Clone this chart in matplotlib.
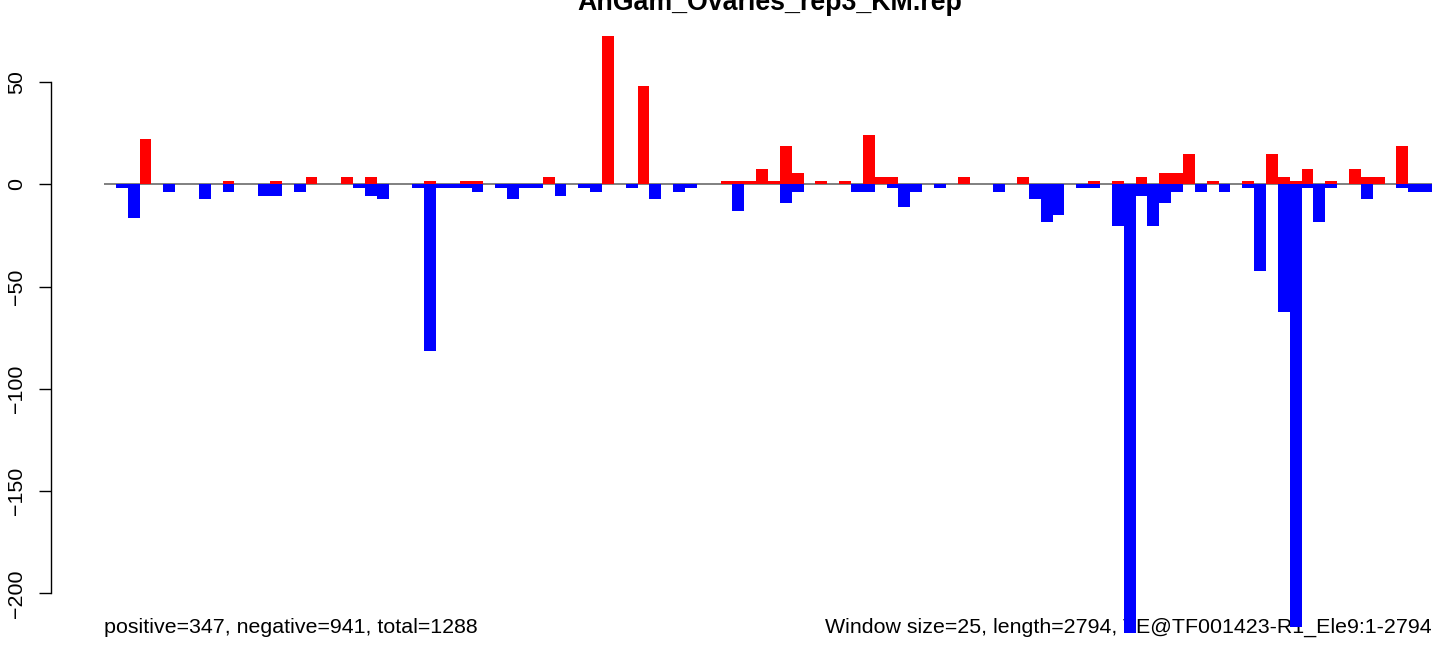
import matplotlib
matplotlib.use("Agg")
import matplotlib.pyplot as plt
import numpy as np

plt.rcParams["font.family"] = ["Liberation Sans", "DejaVu Sans"]

title = "AnGam_Ovaries_rep3_KM.rep"
left_note = "positive=347, negative=941, total=1288"
right_note = "Window size=25, length=2794, TE@TF001423-R1_Ele9:1-2794"

# one value per 25-bp window (112 windows)
pos = [
    0, 0, 0, 22.3, 0, 0, 0, 0,
    0, 0, 1.85, 0, 0, 0, 1.85, 0,
    0, 3.7, 0, 0, 3.7, 0, 3.7, 0,
    0, 0, 0, 1.85, 0, 0, 1.85, 1.85,
    0, 0, 0, 0, 0, 3.7, 0, 0,
    0, 0, 72.3, 0, 0, 48.2, 0, 0,
    0, 0, 0, 0, 1.85, 1.85, 1.85, 7.4,
    1.85, 18.5, 5.55, 0, 1.85, 0, 1.85, 0,
    24.2, 3.7, 3.7, 0, 0, 0, 0, 0,
    3.7, 0, 0, 0, 0, 3.7, 0, 0,
    0, 0, 0, 1.85, 0, 1.85, 0, 3.7,
    0, 5.55, 5.55, 14.8, 0, 1.85, 0, 0,
    1.85, 0, 14.8, 3.7, 1.85, 7.4, 0, 1.85,
    0, 7.4, 3.7, 3.7, 0, 18.5, 0, 0,
]
neg = [
    0, 1.85, 16.65, 0, 0, 3.7, 0, 0,
    7.4, 0, 3.7, 0, 0, 5.55, 5.55, 0,
    3.7, 0, 0, 0, 0, 1.85, 5.55, 7.4,
    0, 0, 1.85, 81.5, 1.85, 1.85, 1.85, 3.7,
    0, 1.85, 7.4, 1.85, 1.85, 0, 5.55, 0,
    1.85, 3.7, 0, 0, 1.85, 0, 7.4, 0,
    3.7, 1.85, 0, 0, 0, 12.95, 0, 0,
    0, 9.25, 3.7, 0, 0, 0, 0, 3.7,
    3.7, 0, 1.85, 11.1, 3.7, 0, 1.85, 0,
    0, 0, 0, 3.7, 0, 0, 7.4, 18.5,
    14.8, 0, 1.85, 1.85, 0, 20.35, 219.5, 5.55,
    20.35, 9.25, 3.7, 0, 3.7, 0, 3.7, 0,
    1.85, 42.6, 0, 62.5, 216.5, 1.85, 18.5, 1.85,
    0, 0, 7.4, 0, 0, 1.85, 3.7, 3.7,
]
yticks = [-200, -150, -100, -50, 0, 50]

W, H = 1449, 646
fig = plt.figure(figsize=(W / 100, H / 100), dpi=100)
fig.patch.set_facecolor("white")

# axes placed in pixels so the bars line up with the original R barplot
ax_l, ax_r, ax_t, ax_b = 40, 1440, 20, 645
ax = fig.add_axes([ax_l / W, 1 - ax_b / H, (ax_r - ax_l) / W, (ax_b - ax_t) / H])

n = len(pos)
x = np.arange(n)
px_per_bar = (1432 - 104) / n
px_per_unit = 2.045
zero_px = 184.3

ax.set_xlim((ax_l - 104) / px_per_bar, (ax_r - 104) / px_per_bar)
ax.set_ylim(-(ax_b - zero_px) / px_per_unit, (zero_px - ax_t) / px_per_unit)

ax.text(0, -219.4, left_note, ha="left", va="baseline", fontsize=15.4, zorder=1)
ax.text(n, -219.4, right_note, ha="right", va="baseline", fontsize=15.4, zorder=1)

ax.hlines(0, 0, n, color="#808080", lw=1.4, zorder=2)
ax.bar(x, pos, width=1.0, align="edge", color="#ff0000", linewidth=0, zorder=3)
ax.bar(x, -np.asarray(neg), width=1.0, align="edge", color="#0000ff", linewidth=0, zorder=3)

for s in ["top", "right", "bottom"]:
    ax.spines[s].set_visible(False)
ax.spines["left"].set_position(("data", (50.7 - 104) / px_per_bar))
ax.spines["left"].set_bounds(-200, 50)
ax.spines["left"].set_linewidth(1.0)
ax.set_xticks([])
ax.set_yticks(yticks)
ax.set_yticklabels([str(v).replace("-", "\u2212") for v in yticks], rotation=90, va="center")
ax.tick_params(axis="y", direction="out", length=9, width=1.0, pad=9, labelsize=15.4)
ax.patch.set_alpha(0)

# the title sits partly above the page edge, as in the original
fig.text(770 / W, 1 - 10 / H, title, ha="center", va="baseline",
         fontsize=19.3, fontweight="bold")

fig.savefig("out.png", dpi=100, facecolor="white")
